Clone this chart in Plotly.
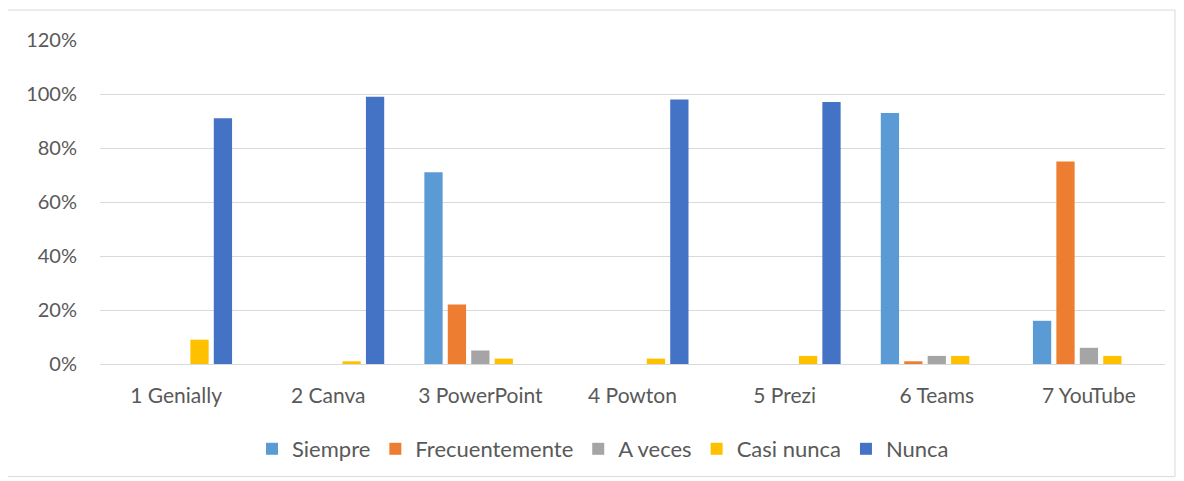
import plotly.graph_objects as go

categories = ["1 Genially", "2 Canva", "3 PowerPoint", "4 Powton", "5 Prezi", "6 Teams", "7 YouTube"]
siempre = [0, 0, 0.71, 0, 0, 0.93, 0.16]
frecuentemente = [0, 0, 0.22, 0, 0, 0.01, 0.75]
a_veces = [0, 0, 0.05, 0, 0, 0.03, 0.06]
casi_nunca = [0.09, 0.01, 0.02, 0.02, 0.03, 0.03, 0.03]
nunca = [0.91, 0.99, 0, 0.98, 0.97, 0, 0]

series = [
    ("Siempre", siempre, "#5B9BD5"),
    ("Frecuentemente", frecuentemente, "#ED7D31"),
    ("A veces", a_veces, "#A5A5A5"),
    ("Casi nunca", casi_nunca, "#FFC000"),
    ("Nunca", nunca, "#4472C4"),
]

fig = go.Figure()
for name, vals, color in series:
    fig.add_trace(go.Bar(x=categories, y=vals, name=name, marker_color=color,
                         marker_line_width=0))

fam = "Lato, Open Sans, sans-serif"
col = "#595959"
OFF = 8  # page body margin
W, H = 1184 - OFF, 481 - OFF
l, r = 100 - OFF, 1184 - 1165
t, b = 40 - OFF, 481 - 365
pw, ph = W - l - r, H - t - b

def px_x(x):
    return (x - OFF - l) / pw

def px_y(y):
    return (H - b - (y - OFF)) / ph

fig.update_layout(
    width=W, height=H,
    margin=dict(l=l, r=r, t=t, b=b),
    paper_bgcolor="white", plot_bgcolor="white",
    font=dict(family=fam, size=20, color=col),
    barmode="group", bargap=0.23, bargroupgap=0.22,
    showlegend=True,
    legend=dict(orientation="h", x=px_x(603), xanchor="center", y=px_y(449), yanchor="middle",
                font=dict(family=fam, size=22, color=col), itemwidth=30, traceorder="normal"),
    xaxis=dict(showgrid=False, ticks="", showline=False,
               tickfont=dict(family=fam, size=21, color=col), ticklabelstandoff=17),
    yaxis=dict(range=[0, 1.2], dtick=0.2, tickformat=".0%", showgrid=True, gridcolor="#D9D9D9",
               gridwidth=1.3, zeroline=True, zerolinecolor="#D9D9D9", zerolinewidth=1.3,
               showline=False, ticks="", tickfont=dict(family=fam, size=20, color=col),
               ticklabelstandoff=22),
    shapes=[dict(type="rect", xref="paper", yref="paper",
                 x0=px_x(7), x1=px_x(1175), y0=px_y(478), y1=px_y(10),
                 line=dict(color="#D9D9D9", width=1), fillcolor="rgba(0,0,0,0)", layer="below")],
)

fig.write_html("out.html")
